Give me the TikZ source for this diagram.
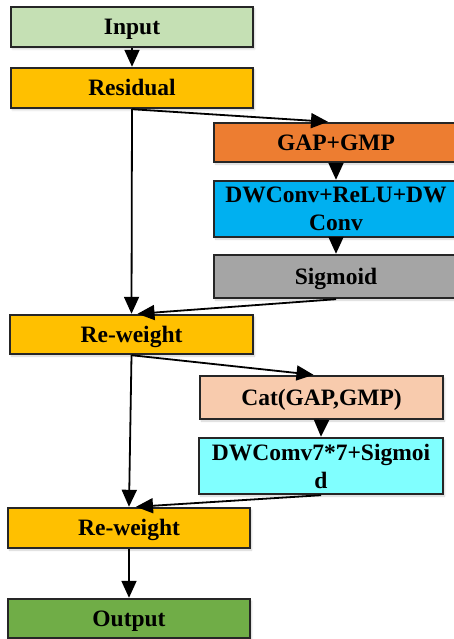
\documentclass[tikz,border=0pt]{standalone}
\usepackage{fontspec}
\setmainfont{Liberation Serif}
\usetikzlibrary{arrows.meta,shadows.blur}
\definecolor{cInput}{HTML}{C5E0B4}
\definecolor{cRes}{HTML}{FFC000}
\definecolor{cGap}{HTML}{ED7D31}
\definecolor{cDw}{HTML}{00B0F0}
\definecolor{cSig}{HTML}{A5A5A5}
\definecolor{cCat}{HTML}{F8CBAD}
\definecolor{cDwc}{HTML}{80FFFF}
\definecolor{cOut}{HTML}{70AD47}
\tikzset{
  blk/.style={draw=black!85, line width=2.4pt, inner sep=0pt, align=center,
    font=\bfseries\fontsize{23.5}{28}\selectfont,
    blur shadow={shadow xshift=1.5pt, shadow yshift=-2pt, shadow opacity=18, shadow blur steps=6}},
  oneline/.style={text height=15.6pt, text depth=0pt},
  flow/.style={line width=1.8pt, -{Triangle[width=15pt,length=17pt]}}
}
\begin{document}
\begin{tikzpicture}[x=1pt,y=-1pt]
\useasboundingbox (0,0) rectangle (454,639);
\clip (0,0) rectangle (454,639);
% main column
\node[blk, oneline, fill=cInput, minimum width=242pt, minimum height=40pt] (in)  at (132,27)    {Input};
\node[blk, oneline, fill=cRes,   minimum width=242pt, minimum height=40pt] (res) at (132,88)    {Residual};
\node[blk, oneline, fill=cRes,   minimum width=243pt, minimum height=39pt] (rw1) at (131.5,334.5) {Re-weight};
\node[blk, oneline, fill=cRes,   minimum width=242pt, minimum height=40pt] (rw2) at (129,528)   {Re-weight};
\node[blk, oneline, fill=cOut,   minimum width=242pt, minimum height=39pt] (out) at (129,618.5) {Output};
% channel attention branch
\node[blk, oneline, fill=cGap, minimum width=244pt, minimum height=39pt] (gap) at (336,142.5) {GAP+GMP};
\node[blk, fill=cDw,  minimum width=244pt, minimum height=56pt] (dw)  at (336,209)   {DWConv+ReLU+DW\\Conv};
\node[blk, oneline, fill=cSig, minimum width=244pt, minimum height=43pt] (sig) at (336,276.5) {Sigmoid};
% spatial attention branch
\node[blk, oneline, fill=cCat, minimum width=243pt, minimum height=43pt] (cat) at (321.5,397.5) {Cat(GAP,GMP)};
\node[blk, fill=cDwc, minimum width=244pt, minimum height=56pt] (dwc) at (321,466)     {DWComv7*7+Sigmoi\\d};
% connectors
\draw[flow] (in.south) -- (res.north);
\draw[flow] (res.south) -- ([xshift=-8pt]gap.north);
\draw[flow] (gap.south) -- (dw.north);
\draw[flow] (dw.south) -- (sig.north);
\draw[flow] (res.south) -- (rw1.north);
\draw[flow] (sig.south) -- ([xshift=6pt]rw1.north);
\draw[flow] (rw1.south) -- ([xshift=-8pt]cat.north);
\draw[flow] (cat.south) -- (dwc.north);
\draw[flow] (rw1.south) -- (rw2.north);
\draw[flow] (dwc.south) -- ([xshift=7pt]rw2.north);
\draw[flow] (rw2.south) -- (out.north);
\end{tikzpicture}
\end{document}
